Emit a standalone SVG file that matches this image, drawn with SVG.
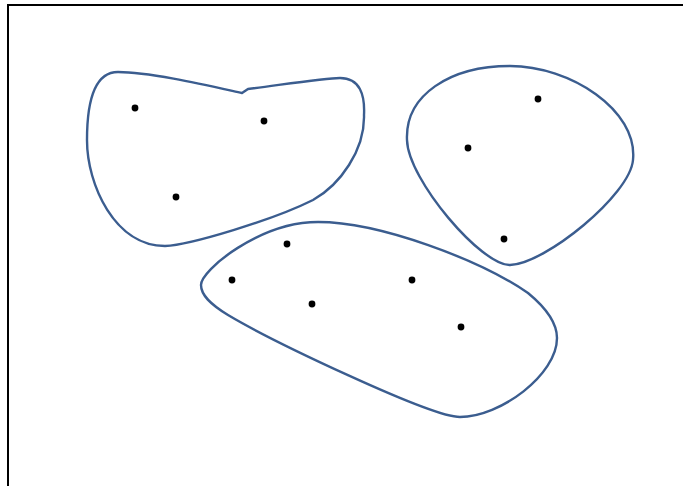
<svg xmlns="http://www.w3.org/2000/svg" width="683" height="486" viewBox="0 0 683 486">
<style>
.blob{fill:none;stroke:#3b5d8f;stroke-width:2.4;stroke-linejoin:round}
.dot{fill:#000}
.frame{fill:none;stroke:#000;stroke-width:2}
</style>
<rect width="683" height="486" fill="#fff"/>
<path class="frame" d="M8,486 L8,5 L683,5"/>
<g id="cluster1">
<path class="blob" d="M248,89 C280,85 325,78 340,78 C360,78 365,95 364,115 C365,150 340,185 313,200 C273,220 190,245 165,246 C115,246 87,185 87,140 C87,100 95,72 118,72 C150,72 210,86 242,93 Z"/>
<circle class="dot" cx="135" cy="108" r="3.4"/>
<circle class="dot" cx="264" cy="121" r="3.4"/>
<circle class="dot" cx="176" cy="197" r="3.4"/>
</g>
<g id="cluster2">
<path class="blob" d="M510,66 C570,66 638,110 633,160 C630,195 545,264 510,265 C482,266 408,180 407,140 C405,95 450,66 510,66 Z"/>
<circle class="dot" cx="538" cy="99" r="3.4"/>
<circle class="dot" cx="468" cy="148" r="3.4"/>
<circle class="dot" cx="504" cy="239" r="3.4"/>
</g>
<g id="cluster3">
<path class="blob" d="M318,222 C380,222 480,260 528,293 C545,307 557,322 557,338 C557,375 500,417 460,417 C430,417 270,340 228,315 C210,304 201,295 201,285 C201,270 260,222 318,222 Z"/>
<circle class="dot" cx="287" cy="244" r="3.4"/>
<circle class="dot" cx="232" cy="280" r="3.4"/>
<circle class="dot" cx="312" cy="304" r="3.4"/>
<circle class="dot" cx="412" cy="280" r="3.4"/>
<circle class="dot" cx="461" cy="327" r="3.4"/>
</g>
<g id="connectors"/>
</svg>
